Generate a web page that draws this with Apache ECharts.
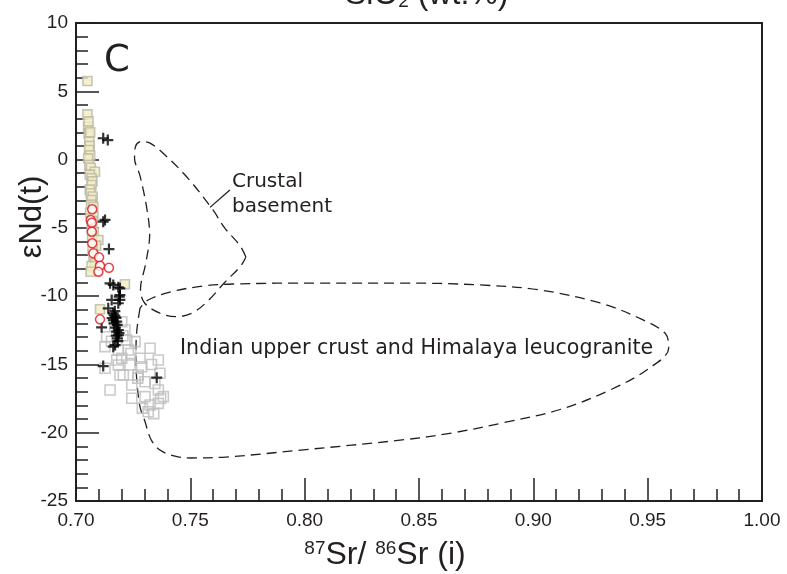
<!DOCTYPE html>
<html>
<head>
<meta charset="utf-8">
<script src="https://cdn.jsdelivr.net/npm/echarts@6/dist/echarts.min.js"></script>
<style>
  html, body { margin: 0; padding: 0; background: #fff; }
  #chart { width: 787px; height: 574px; }
</style>
</head>
<body>
<div id="chart"></div>
<script>
// Sr–Nd isotope plot: 87Sr/86Sr(i) vs εNd(t)

const xTicks = ['0.70', '0.75', '0.80', '0.85', '0.90', '0.95', '1.00'];
const yTicks = ['10', '5', '0', '-5', '-10', '-15', '-20', '-25'];

// pale yellow squares
const yellowSquares = [
  [0.7050, 5.75], [0.7050, 3.31], [0.7053, 2.41], [0.7055, 2.8], [0.7055, 1.92],
  [0.7062, 2.0], [0.7058, 1.31], [0.7060, 1.0], [0.7057, 0.70], [0.7062, 0.3],
  [0.7053, 0.09], [0.7058, -0.40], [0.7065, -0.6], [0.7083, -0.89], [0.7060, -1.1],
  [0.7068, -1.37], [0.7072, -1.6], [0.7068, -1.86], [0.7060, -2.2], [0.7064, -2.47],
  [0.7073, -2.7], [0.7068, -2.96], [0.7066, -3.3], [0.7076, -3.45], [0.7062, -3.9],
  [0.7076, -4.18], [0.7072, -4.5], [0.7068, -4.92], [0.7078, -5.3], [0.7070, -5.6],
  [0.7098, -5.89], [0.7088, -6.3], [0.7072, -6.6], [0.7076, -7.11], [0.7083, -7.60],
  [0.7068, -7.8], [0.7064, -8.21], [0.7214, -9.13], [0.7105, -10.96]
];

// grey open squares
const greySquares = [
  [0.7200, -11.87], [0.7214, -12.48], [0.7170, -12.2], [0.7134, -12.97], [0.7205, -12.9],
  [0.7127, -13.70], [0.7222, -13.21], [0.7258, -13.33], [0.7155, -13.3], [0.7324, -13.82],
  [0.7185, -13.94], [0.7229, -13.94], [0.7240, -14.2], [0.7200, -14.55], [0.7280, -14.55],
  [0.7360, -14.68], [0.7178, -14.68], [0.7185, -15.04], [0.7236, -15.04], [0.7330, -15.0],
  [0.7287, -15.17], [0.7127, -15.28], [0.7192, -15.77], [0.7207, -15.77], [0.7272, -15.77],
  [0.7367, -15.65], [0.7270, -16.0], [0.7244, -16.51], [0.7302, -16.27], [0.7345, -16.4],
  [0.7149, -16.87], [0.7360, -16.87], [0.7382, -17.36], [0.7244, -17.48], [0.7302, -17.36],
  [0.7370, -17.5], [0.7324, -17.97], [0.7360, -17.85], [0.7290, -18.2], [0.7316, -18.46],
  [0.7340, -18.6]
];

// black crosses
const crosses = [
  [0.7119, 1.56], [0.7139, 1.43], [0.7119, -4.55], [0.7127, -4.42], [0.7144, -6.55],
  [0.7149, -9.06], [0.7163, -9.18], [0.7185, -9.35], [0.7192, -9.43], [0.7192, -9.92],
  [0.7189, -10.04], [0.7156, -10.28], [0.7192, -10.28], [0.7185, -10.52], [0.7141, -10.89],
  [0.7170, -11.1], [0.7163, -11.26], [0.7167, -11.4], [0.7171, -11.50], [0.7158, -11.6],
  [0.7175, -11.6], [0.7163, -11.75], [0.7178, -11.87], [0.7166, -12.0], [0.7180, -12.1],
  [0.7112, -12.28], [0.7172, -12.3], [0.7185, -12.48], [0.7178, -12.60], [0.7188, -12.7],
  [0.7185, -12.85], [0.7176, -12.9], [0.7181, -13.09], [0.7183, -13.3], [0.7171, -13.58],
  [0.7163, -13.70], [0.7119, -15.12], [0.7353, -15.97]
];

// red open circles
const redCircles = [
  [0.7071, -3.64], [0.7064, -4.43], [0.7069, -4.62], [0.7069, -5.28], [0.7071, -6.13],
  [0.7076, -6.86], [0.7101, -7.16], [0.7105, -7.78], [0.7098, -8.21], [0.7144, -7.92],
  [0.7105, -11.70]
];

// field outlines
const crustalBasement = [
  [0.7743, -7.13], [0.7717, -6.3], [0.7650, -5.0], [0.7599, -3.69], [0.7485, -1.28],
  [0.7380, 0.48], [0.7324, 1.2], [0.7285, 1.33], [0.7260, 0.95], [0.7256, 0.1],
  [0.7280, -1.2], [0.7310, -3.6], [0.7322, -5.5], [0.7305, -7.6], [0.7282, -9.5],
  [0.7300, -10.5], [0.7367, -11.25], [0.7442, -11.5], [0.7512, -11.2], [0.7580, -10.3],
  [0.7650, -9.0], [0.7720, -7.8], [0.7743, -7.13]
];
const indianCrust = [
  [0.7280, -10.87], [0.7265, -12.7], [0.7262, -14.7], [0.7267, -16.4], [0.7280, -18.1],
  [0.7302, -19.2], [0.7328, -20.5], [0.7367, -21.27], [0.7433, -21.71], [0.7503, -21.85],
  [0.7656, -21.78], [0.7984, -21.27], [0.8426, -20.53], [0.8644, -20.02], [0.8863, -19.29],
  [0.9117, -18.3], [0.9345, -16.8], [0.9505, -15.3], [0.9592, -13.8], [0.9578, -12.75],
  [0.9475, -11.7], [0.9292, -10.50], [0.9029, -9.55], [0.8766, -9.18], [0.8417, -9.04],
  [0.8067, -9.04], [0.7687, -9.11], [0.7555, -9.26], [0.7411, -9.70], [0.7315, -10.28],
  [0.7280, -10.87]
];
const crustalLeader = [[0.7586, -3.50], [0.7673, -2.23]];

const ink = '#231f20';
const sans = 'Liberation Sans';
const crossPath = 'path://M-1,-5H1V-1H5V1H1V5H-1V1H-5V-1H-1Z';

const chart = echarts.init(document.getElementById('chart'));

chart.setOption({
  animation: false,
  backgroundColor: '#fff',
  grid: {
    left: 76, right: 25, top: 23, bottom: 73,
    show: true, borderColor: ink, borderWidth: 2, backgroundColor: 'transparent'
  },
  xAxis: {
    type: 'value', min: 0.70, max: 1.00, interval: 0.05,
    axisLine: { onZero: false, lineStyle: { color: ink, width: 2 } },
    axisTick: { inside: true, length: 23, lineStyle: { color: ink, width: 1.5 } },
    minorTick: { show: true, splitNumber: 5, length: 12, lineStyle: { color: ink, width: 1.5 } },
    splitLine: { show: false },
    axisLabel: {
      color: ink, fontFamily: sans, fontSize: 19, margin: 10,
      formatter: v => xTicks[Math.round((v - 0.70) / 0.05)]
    }
  },
  yAxis: {
    type: 'value', min: -25, max: 10, interval: 5,
    axisLine: { onZero: false, lineStyle: { color: ink, width: 2 } },
    axisTick: { inside: true, length: 23, lineStyle: { color: ink, width: 1.5 } },
    minorTick: { show: true, splitNumber: 5, length: 12, lineStyle: { color: ink, width: 1.5 } },
    splitLine: { show: false },
    axisLabel: {
      color: ink, fontFamily: sans, fontSize: 19, margin: 8,
      formatter: v => yTicks[Math.round((10 - v) / 5)]
    }
  },
  series: [
    {
      type: 'line', data: indianCrust, smooth: 0.35, symbol: 'none', silent: true,
      lineStyle: { color: ink, width: 1.3, type: [10, 6] }, z: 1
    },
    {
      type: 'line', data: crustalBasement, smooth: 0.35, symbol: 'none', silent: true,
      lineStyle: { color: ink, width: 1.3, type: [10, 6] }, z: 1
    },
    {
      type: 'line', data: crustalLeader, symbol: 'none', silent: true,
      lineStyle: { color: ink, width: 1.3 }, z: 1
    },
    {
      type: 'scatter', data: greySquares, symbol: 'rect', symbolSize: 10,
      itemStyle: { color: 'rgba(255,255,255,0)', borderColor: '#bdbdbd', borderWidth: 1.6 }, z: 2
    },
    {
      type: 'scatter', data: yellowSquares, symbol: 'rect', symbolSize: 9,
      itemStyle: { color: '#f2edc0', borderColor: '#b9b8a8', borderWidth: 1.6 }, z: 3
    },
    {
      type: 'scatter', data: crosses, symbol: crossPath, symbolSize: 11,
      itemStyle: { color: '#000' }, z: 4
    },
    {
      type: 'scatter', data: redCircles, symbol: 'circle', symbolSize: 9,
      itemStyle: { color: '#fff', borderColor: '#e3141b', borderWidth: 1.5 }, z: 5
    }
  ],
  graphic: [
    {
      type: 'text', x: 345, y: -5, silent: true,
      style: {
        text: 'SiO{sub|2} (wt.%)', fill: ink, font: '32px Liberation Sans',
        verticalAlign: 'middle',
        rich: { sub: { fontSize: 19, fontFamily: sans, verticalAlign: 'bottom', lineHeight: 19 } }
      }
    },
    {
      type: 'text', x: 104, y: 61, silent: true,
      style: { text: 'C', fill: ink, font: '37px DejaVu Sans', verticalAlign: 'middle' }
    },
    {
      type: 'text', x: 232, y: 194, silent: true,
      style: { text: 'Crustal\nbasement', fill: ink, font: '20px DejaVu Sans', lineHeight: 25, verticalAlign: 'middle' }
    },
    {
      type: 'text', x: 180, y: 349, silent: true,
      style: { text: 'Indian upper crust and Himalaya leucogranite', fill: ink, font: '20.6px DejaVu Sans', verticalAlign: 'middle' }
    },
    {
      type: 'text', x: 32, y: 217, rotation: Math.PI / 2, silent: true,
      style: { text: 'εNd(t)', fill: ink, font: '31px Liberation Sans', align: 'center', verticalAlign: 'middle' }
    },
    {
      type: 'text', x: 385, y: 555, silent: true,
      style: {
        text: '{sup|87}Sr/ {sup|86}Sr (i)', fill: ink, font: '32px Liberation Sans',
        align: 'center', verticalAlign: 'middle',
        rich: { sup: { fontSize: 19, fontFamily: sans, verticalAlign: 'top', lineHeight: 19 } }
      }
    }
  ]
});
</script>
</body>
</html>
